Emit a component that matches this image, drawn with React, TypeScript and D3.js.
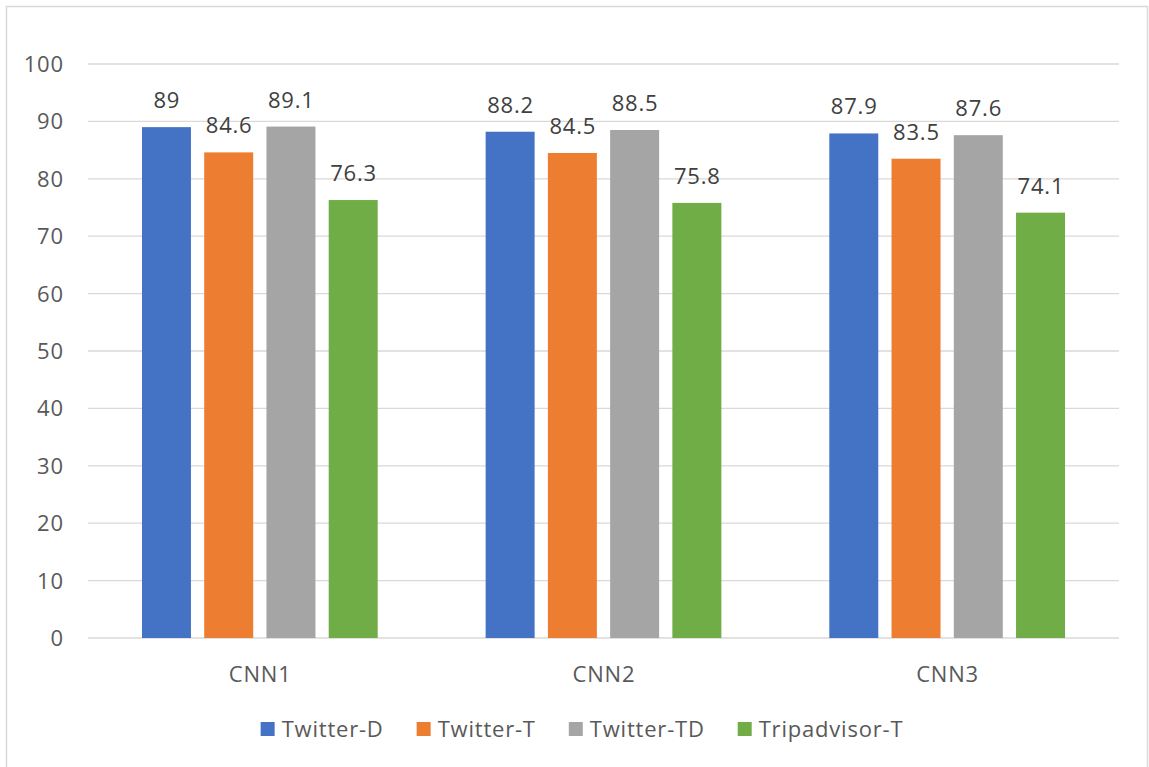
import React, { useEffect, useRef } from "react";
import * as d3 from "d3";

const categories = ["CNN1", "CNN2", "CNN3"];
const seriesNames = ["Twitter-D", "Twitter-T", "Twitter-TD", "Tripadvisor-T"];
const twitterD = [89, 88.2, 87.9];
const twitterT = [84.6, 84.5, 83.5];
const twitterTD = [89.1, 88.5, 87.6];
const tripadvisorT = [76.3, 75.8, 74.1];
const yTicks = [0, 10, 20, 30, 40, 50, 60, 70, 80, 90, 100];
const colors = ["#4472C4", "#ED7D31", "#A5A5A5", "#70AD47"];

const W = 1149;
const H = 767;
const FONT = "'Open Sans', sans-serif";
const FS = 22;
const LS = 0.8;

export default function App() {
  const ref = useRef<SVGSVGElement | null>(null);

  useEffect(() => {
    const svg = d3.select(ref.current);
    svg.selectAll("*").remove();

    const series = [twitterD, twitterT, twitterTD, tripadvisorT];
    const left = 88, right = 1119, top = 64, bottom = 638;

    svg.append("rect")
      .attr("x", 6.5).attr("y", 6.5)
      .attr("width", 1141).attr("height", 770)
      .attr("fill", "white").attr("stroke", "#D9D9D9").attr("stroke-width", 1.5);

    const y = d3.scaleLinear().domain([0, 100]).range([bottom, top]);
    const x0 = d3.scaleBand<string>().domain(categories).range([left, right]).paddingInner(0).paddingOuter(0);
    const x1 = d3.scaleBand<string>().domain(seriesNames).range([0, x0.bandwidth()]).paddingInner(0.213).paddingOuter(0.867);

    const txt = (sel: any) => sel
      .attr("font-family", FONT).attr("font-size", FS)
      .attr("letter-spacing", LS);

    const g = svg.append("g");
    g.selectAll("line.grid").data(yTicks).enter().append("line")
      .attr("x1", left).attr("x2", right)
      .attr("y1", d => y(d)).attr("y2", d => y(d))
      .attr("stroke", "#D9D9D9").attr("stroke-width", 1.3);

    g.selectAll("text.ytick").data(yTicks).enter().append("text")
      .attr("x", 63 + LS).attr("y", d => y(d)).attr("dy", "0.36em")
      .attr("text-anchor", "end")
      .call(txt).attr("fill", "#595959")
      .text(d => String(d));

    series.forEach((vals, si) => {
      const name = seriesNames[si];
      const gs = g.append("g");
      gs.selectAll("rect").data(vals).enter().append("rect")
        .attr("x", (d, i) => (x0(categories[i]) as number) + (x1(name) as number))
        .attr("width", x1.bandwidth())
        .attr("y", d => y(d))
        .attr("height", d => y(0) - y(d))
        .attr("fill", colors[si]);
      gs.selectAll("text").data(vals).enter().append("text")
        .attr("x", (d, i) => (x0(categories[i]) as number) + (x1(name) as number) + x1.bandwidth() / 2 + LS / 2)
        .attr("y", d => y(d) - 19)
        .attr("text-anchor", "middle")
        .call(txt).attr("fill", "#404040")
        .text(d => String(d));
    });

    g.selectAll("text.cat").data(categories).enter().append("text")
      .attr("x", d => (x0(d) as number) + x0.bandwidth() / 2 + LS / 2)
      .attr("y", 682)
      .attr("text-anchor", "middle")
      .call(txt).attr("fill", "#595959")
      .text(d => d);

    // legend
    const lg = svg.append("g");
    const items = lg.selectAll("g").data(seriesNames).enter().append("g");
    items.append("rect").attr("width", 14).attr("height", 14).attr("y", -7)
      .attr("fill", (d, i) => colors[i]);
    const texts = items.append("text").attr("x", 21).attr("dy", "0.36em")
      .call(txt).attr("fill", "#595959")
      .text(d => d);
    const widths: number[] = [];
    texts.each(function () { widths.push((this as SVGTextElement).getComputedTextLength()); });
    const gap = 33;
    const itemW = widths.map(w => 21 + w);
    const total = d3.sum(itemW) + gap * (itemW.length - 1);
    let cx = 582 - total / 2;
    const offs: number[] = [];
    itemW.forEach(w => { offs.push(cx); cx += w + gap; });
    items.attr("transform", (d, i) => `translate(${offs[i]},729)`);
  }, []);

  return (
    <svg ref={ref} width={W} height={H} style={{ position: "absolute", left: 0, top: 0, display: "block" }} />
  );
}
